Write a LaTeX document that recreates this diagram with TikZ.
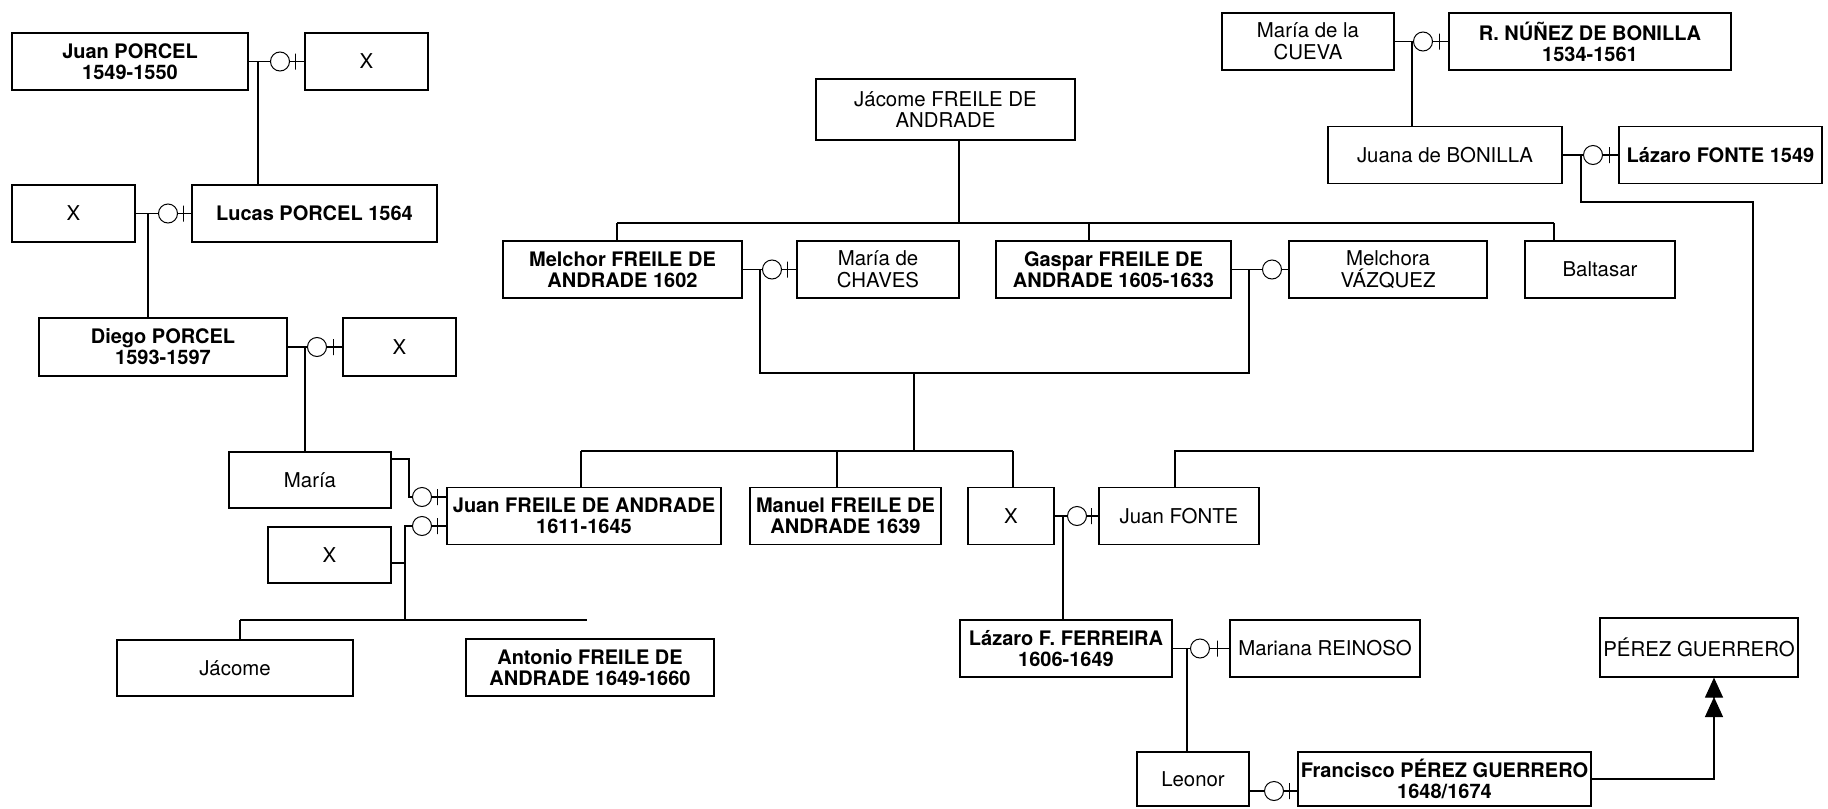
\documentclass[tikz,border=0pt]{standalone}
\usepackage{fontspec}
\setmainfont{TeX Gyre Heros}
\usetikzlibrary{arrows.meta}

\tikzset{
  person/.style={draw, line width=0.6pt, align=center, inner sep=0pt,
                 font=\fontsize{10.2}{10.8}\selectfont},
  lead/.style={person, font=\fontsize{10}{10.5}\selectfont\bfseries},
  boxsize/.style 2 args={minimum width=#1*0.5pt, minimum height=#2*0.5pt},
  ring/.style={draw, circle, minimum size=9.5pt, inner sep=0pt, line width=0.5pt},
  tick/.style={draw, pos=0.4, minimum width=0pt, minimum height=8pt, inner sep=0pt, line width=0.5pt},
  kin/.style={line width=0.6pt},
  head/.style={-{Triangle[length=10pt,width=9pt]}},
}

\begin{document}
\begin{tikzpicture}[x=0.5pt, y=-0.5pt]
  \useasboundingbox (0,0) rectangle (1828,809);

  % Porcel
  \node[lead, boxsize={236}{57}] (juanP) at (130,61.5) {Juan PORCEL\\1549-1550};
  \node[person, boxsize={123}{57}] (xA) at (366.5,61.5) {X};
  \node[ring] (wPorcel) at (280,61.5) {};
  \node[person, boxsize={123}{57}] (xB) at (73.5,213.5) {X};
  \node[lead, boxsize={245}{57}] (lucas) at (314.5,213.5) {Lucas PORCEL 1564};
  \node[ring] (wLucas) at (168,213.5) {};
  \node[lead, boxsize={248}{58}] (diego) at (163,347) {Diego PORCEL\\1593-1597};
  \node[person, boxsize={113}{58}] (xC) at (399.5,347) {X};
  \node[ring] (wDiego) at (317,347) {};
  \node[person, boxsize={162}{56}] (maria) at (310,480) {María};
  \node[person, boxsize={123}{56}] (xD) at (329.5,555) {X};
  \node[person, boxsize={236}{56}] (jacome) at (235,668) {Jácome};
  \node[lead, boxsize={248}{57}] (antonio) at (590,667.5) {Antonio FREILE DE\\ANDRADE 1649-1660};

  % Freile de Andrade
  \node[person, boxsize={259}{61}] (jacomeFA) at (945.5,109.5) {Jácome FREILE DE\\ANDRADE};
  \node[lead, boxsize={239}{57}] (melchor) at (622.5,269.5) {Melchor FREILE DE\\ANDRADE 1602};
  \node[person, boxsize={162}{57}] (chaves) at (878,269.5) {María de\\CHAVES};
  \node[ring] (wMelchor) at (772,269.5) {};
  \node[lead, boxsize={235}{57}] (gaspar) at (1113.5,269.5) {Gaspar FREILE DE\\ANDRADE 1605-1633};
  \node[person, boxsize={198}{57}] (melchora) at (1388,269.5) {Melchora\\VÁZQUEZ};
  \node[ring] (wGaspar) at (1272,269.5) {};
  \node[person, boxsize={150}{57}] (baltasar) at (1600,269.5) {Baltasar};
  \node[lead, boxsize={274}{57}] (juanF) at (584,516) {Juan FREILE DE ANDRADE\\1611-1645};
  \node[ring] (wJuan1) at (422,497) {};
  \node[ring] (wJuan2) at (422,526) {};
  \node[lead, boxsize={191}{57}] (manuel) at (845.5,516) {Manuel FREILE DE\\ANDRADE 1639};
  \node[person, boxsize={86}{57}] (xE) at (1011,516) {X};
  \node[person, boxsize={160}{57}] (juanFonte) at (1179,516) {Juan FONTE};
  \node[ring] (wFonte) at (1077,516) {};

  % Bonilla and Fonte
  \node[person, boxsize={172}{57}] (cueva) at (1308,41.5) {María de la\\CUEVA};
  \node[lead, boxsize={282}{57}] (nunez) at (1590,41.5) {R. NÚÑEZ DE BONILLA\\1534-1561};
  \node[ring] (wCueva) at (1423,41.5) {};
  \node[person, boxsize={234}{57}] (juana) at (1445,155) {Juana de BONILLA};
  \node[lead, boxsize={203}{57}] (lazaroF) at (1720.5,155) {Lázaro FONTE 1549};
  \node[ring] (wJuana) at (1593,155) {};

  % Ferreira and Perez Guerrero
  \node[lead, boxsize={212}{57}] (ferreira) at (1066,648.5) {Lázaro F. FERREIRA\\1606-1649};
  \node[person, boxsize={190}{57}] (reinoso) at (1325,648.5) {Mariana REINOSO};
  \node[ring] (wFerreira) at (1200,648.5) {};
  \node[person, boxsize={112}{54}] (leonor) at (1193,779) {Leonor};
  \node[lead, boxsize={293}{54}] (francisco) at (1444.5,779) {Francisco PÉREZ GUERRERO\\1648/1674};
  \node[ring] (wLeonor) at (1274,791) {};
  \node[person, boxsize={198}{59}] (perez) at (1699,647.5) {PÉREZ GUERRERO};

  % marriages
  \draw[kin] (juanP) -- (wPorcel);
  \draw[kin] (wPorcel) -- node[tick] {} (xA);
  \draw[kin] (xB) -- (wLucas);
  \draw[kin] (wLucas) -- node[tick] {} (lucas);
  \draw[kin] (diego) -- (wDiego);
  \draw[kin] (wDiego) -- node[tick] {} (xC);
  \draw[kin] (wJuan1) -- node[tick] {} (wJuan1 -| juanF.west);
  \draw[kin] (wJuan2) -- node[tick] {} (wJuan2 -| juanF.west);
  \draw[kin] (melchor) -- (wMelchor);
  \draw[kin] (wMelchor) -- node[tick] {} (chaves);
  \draw[kin] (gaspar) -- (wGaspar);
  \draw[kin] (wGaspar) -- (melchora);
  \draw[kin] (xE) -- (wFonte);
  \draw[kin] (wFonte) -- node[tick] {} (juanFonte);
  \draw[kin] (cueva) -- (wCueva);
  \draw[kin] (wCueva) -- node[tick] {} (nunez);
  \draw[kin] (juana) -- (wJuana);
  \draw[kin] (wJuana) -- node[tick] {} (lazaroF);
  \draw[kin] (ferreira) -- (wFerreira);
  \draw[kin] (wFerreira) -- node[tick] {} (reinoso);
  \draw[kin] (wLeonor -| leonor.east) -- (wLeonor);
  \draw[kin] (wLeonor) -- node[tick] {} (wLeonor -| francisco.west);

  % descent
  \coordinate (dPorcel) at (258,61.5);
  \coordinate (dLucas) at (148,213.5);
  \coordinate (dDiego) at (305,347);
  \draw[kin] (dPorcel) -- (dPorcel |- lucas.north);
  \draw[kin] (dLucas) -- (dLucas |- diego.north);
  \draw[kin] (dDiego) -- (dDiego |- maria.north);

  \coordinate (mJuan) at (409,459);
  \coordinate (dJuan) at (405,563);
  \coordinate (kidsA) at (240,620);
  \coordinate (kidsB) at (587,620);
  \draw[kin] (mJuan -| maria.east) -- (mJuan) |- (wJuan1.west);
  \draw[kin] (dJuan -| xD.east) -- (dJuan);
  \draw[kin] (wJuan2.west) -| (dJuan) -- (dJuan |- kidsA);
  \draw[kin] (kidsA) -- (kidsB);
  \draw[kin] (kidsA) -- (kidsA |- jacome.north);

  \coordinate (dJacome) at (959,223);
  \coordinate (sibL) at (617,223);
  \coordinate (sibG) at (1089,223);
  \coordinate (sibR) at (1554,223);
  \draw[kin] (dJacome |- jacomeFA.south) -- (dJacome);
  \draw[kin] (sibL) -- (sibR);
  \draw[kin] (sibL) -- (sibL |- melchor.north);
  \draw[kin] (sibG) -- (sibG |- gaspar.north);
  \draw[kin] (sibR) -- (sibR |- baltasar.north);

  \coordinate (dMelchor) at (760,269.5);
  \coordinate (dGaspar) at (1249,269.5);
  \coordinate (dCousins) at (914,373);
  \coordinate (cousL) at (581,451);
  \coordinate (cousM) at (837,451);
  \coordinate (cousR) at (1013,451);
  \draw[kin] (dMelchor) |- (dCousins) -| (dGaspar);
  \draw[kin] (dCousins) -- (dCousins |- cousL);
  \draw[kin] (cousL) -- (cousR);
  \draw[kin] (cousL) -- (cousL |- juanF.north);
  \draw[kin] (cousM) -- (cousM |- manuel.north);
  \draw[kin] (cousR) -- (cousR |- xE.north);

  \coordinate (dCueva) at (1412,41.5);
  \coordinate (dJuana) at (1581,155);
  \coordinate (turnF) at (1753,451);
  \coordinate (upFonte) at (1175,451);
  \draw[kin] (dCueva) -- (dCueva |- juana.north);
  \draw[kin] (dJuana) -- ++(0,47) -| (turnF) -- (upFonte) -- (upFonte |- juanFonte.north);

  \coordinate (dFonte) at (1063,516);
  \coordinate (dFerreira) at (1187,648.5);
  \draw[kin] (dFonte) -- (dFonte |- ferreira.north);
  \draw[kin] (dFerreira) -- (dFerreira |- leonor.north);

  % double arrow to the Perez Guerrero line
  \coordinate (upPG) at (1714,779);
  \coordinate (tipPG) at (1714,697);
  \draw[kin, head] (francisco.east) -- (upPG) -- (tipPG);
  \draw[kin, head] (tipPG) -- (tipPG |- perez.south);
\end{tikzpicture}
\end{document}
